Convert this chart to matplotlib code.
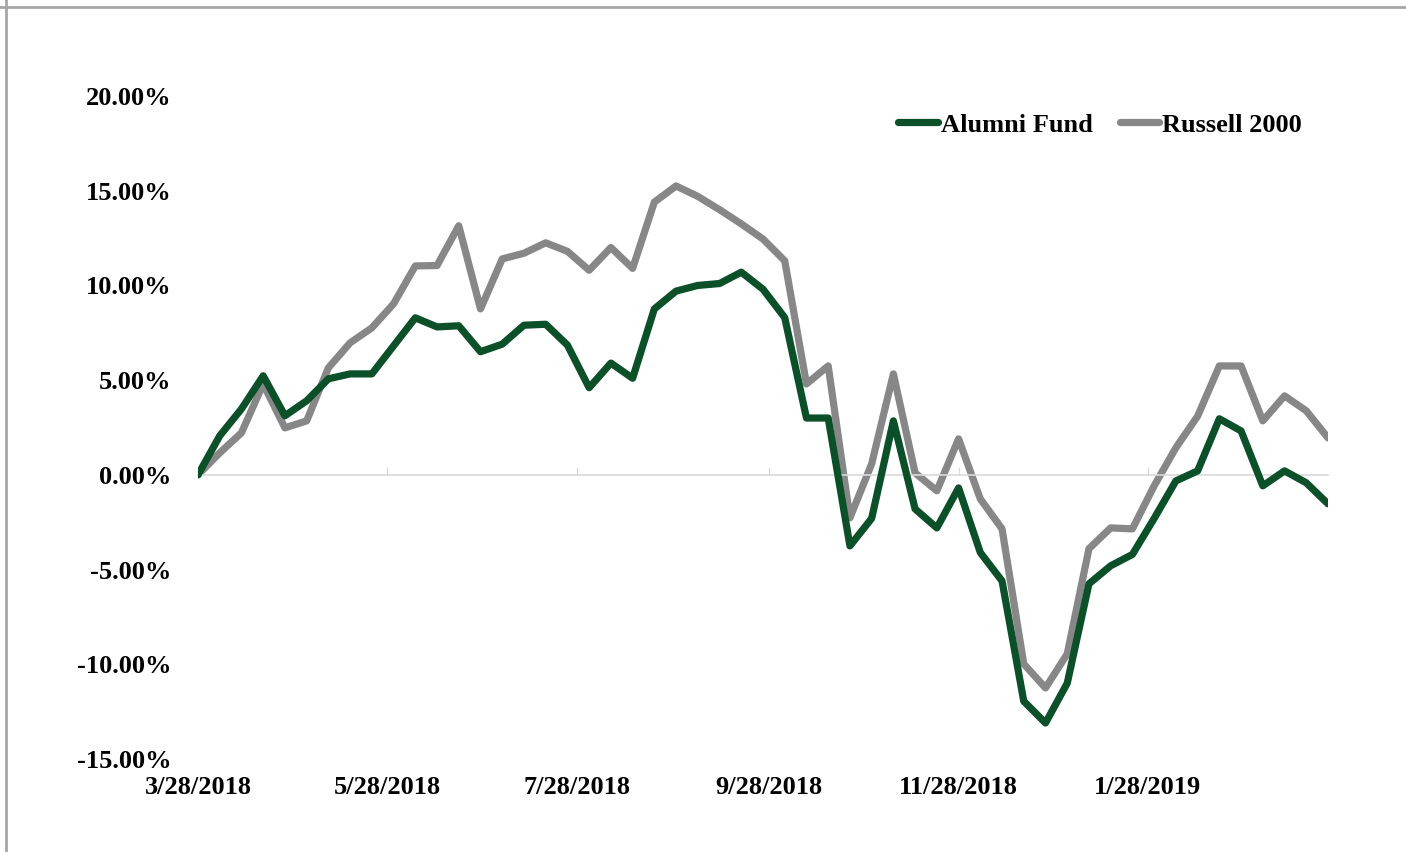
import matplotlib
matplotlib.use("Agg")
import matplotlib.pyplot as plt
import matplotlib.dates as mdates
from matplotlib.lines import Line2D
from matplotlib.ticker import FuncFormatter
import pandas as pd

# weekly cumulative returns (%) starting 3/28/2018
dates = pd.date_range("2018-03-28", periods=53, freq="7D")

alumni_fund = [
    0.00, 2.06, 3.48, 5.23, 3.12, 3.91, 5.07, 5.33, 5.33, 6.81,
    8.29, 7.81, 7.87, 6.50, 6.90, 7.90, 7.95, 6.85, 4.60, 5.90,
    5.10, 8.76, 9.70, 10.00, 10.10, 10.70, 9.80, 8.30, 3.00, 3.00,
    -3.75, -2.30, 2.85, -1.80, -2.80, -0.69, -4.10, -5.60, -11.95, -13.10,
    -11.00, -5.75, -4.80, -4.20, -2.30, -0.32, 0.21, 2.96, 2.32, -0.58,
    0.21, -0.42, -1.53,
]
russell_2000 = [
    0.00, 1.16, 2.22, 4.80, 2.48, 2.85, 5.65, 6.97, 7.76, 9.03,
    11.03, 11.05, 13.15, 8.76, 11.40, 11.70, 12.25, 11.80, 10.80, 12.00,
    10.90, 14.40, 15.25, 14.70, 14.00, 13.25, 12.45, 11.30, 4.80, 5.75,
    -2.27, 0.58, 5.33, 0.10, -0.84, 1.90, -1.27, -2.85, -9.98, -11.25,
    -9.45, -3.90, -2.80, -2.85, -0.58, 1.43, 3.10, 5.75, 5.75, 2.85,
    4.17, 3.38, 1.95,
]

tick_dates = pd.to_datetime(["2018-03-28", "2018-05-28", "2018-07-28",
                             "2018-09-28", "2018-11-28", "2019-01-28"])
y_ticks = [-15, -10, -5, 0, 5, 10, 15, 20]

GREEN = "#0B5028"
GRAY = "#878787"
FONT = "Liberation Serif"
FS = 19

plt.rcParams.update({
    "font.family": FONT,
    "font.weight": "bold",
})

fig = plt.figure(figsize=(14.06, 8.52), dpi=100)
ax = fig.add_axes([198 / 1406, 1 - 759 / 852, 1130 / 1406, 663 / 852])

ax.plot(dates, alumni_fund, color=GREEN, lw=5.2, label="Alumni Fund",
        solid_joinstyle="round", solid_capstyle="round", zorder=3)
ax.plot(dates, russell_2000, color=GRAY, lw=5.2, label="Russell 2000",
        solid_joinstyle="round", solid_capstyle="round", zorder=2)

ax.set_xlim(dates[0], dates[-1])
ax.set_ylim(-15, 20)
ax.set_yticks(y_ticks)
ax.yaxis.set_major_formatter(FuncFormatter(lambda v, p: f"{v:.2f}%"))
ax.tick_params(axis="y", length=0, pad=19, labelsize=FS)

# category axis crosses at zero, labels kept low (Excel style)
for s in ["top", "right", "left"]:
    ax.spines[s].set_visible(False)
ax.spines["bottom"].set_position(("data", 0))
ax.spines["bottom"].set_color("#D9D9D9")
ax.spines["bottom"].set_linewidth(1.2)
ax.set_xticks(tick_dates)
ax.tick_params(axis="x", direction="in", length=6, color="#D9D9D9",
               labelbottom=False)

sec = ax.secondary_xaxis("bottom")
sec.set_xticks(tick_dates)
sec.xaxis.set_major_formatter(mdates.DateFormatter("%-m/%-d/%Y"))
sec.tick_params(length=0, pad=12, labelsize=FS)
sec.spines["bottom"].set_visible(False)

leg = ax.legend(loc="center right", bbox_to_anchor=(1302 / 1406, 1 - 125 / 852),
                bbox_transform=fig.transFigure, ncol=2, frameon=False,
                fontsize=FS, handlelength=1.5, handletextpad=0.12,
                columnspacing=1.0, borderpad=0, borderaxespad=0)

# chart-area border (top and left edges visible in the source)
fig.add_artist(Line2D([0, 1], [1 - 7 / 852] * 2, color="#A6A6A6", lw=2))
fig.add_artist(Line2D([6 / 1406] * 2, [0, 1], color="#A6A6A6", lw=2))

fig.savefig("out.png", dpi=100, facecolor="white")
plt.close(fig)
